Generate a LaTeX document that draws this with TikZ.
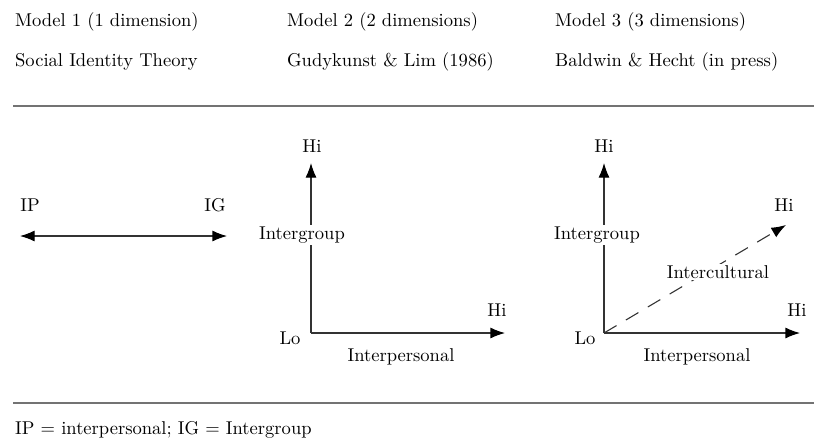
\documentclass[tikz,border=0pt]{standalone}
\usepackage{tikz}
\usetikzlibrary{positioning}
\usetikzlibrary{arrows.meta}
\tikzset{
  lbl/.style={inner sep=1pt, font=\fontsize{10.2}{12}\selectfont},
  axis/.style={draw=black!80, line width=0.6pt, -{Latex[length=8pt,width=6pt,color=black]}},
  rule/.style={draw=black!55, line width=1.1pt},
}

\begin{document}
\begin{tikzpicture}[x=0.55pt, y=-0.55pt]
        \useasboundingbox (0,0) rectangle (814,439);

        % header rows
        \node[lbl, anchor=west] (model_one) at (13,22) {Model 1 (1 dimension)};
        \node[lbl, anchor=west] (model_two) at (285,22) {Model 2 (2 dimensions)};
        \node[lbl, anchor=west] (model_three) at (553,22) {Model 3 (3 dimensions)};
        \node[lbl, anchor=west] (source_one) at (13,62) {Social Identity Theory};
        \node[lbl, anchor=west] (source_two) at (285,62) {Gudykunst \& Lim (1986)};
        \node[lbl, anchor=west] (source_three) at (553,62) {Baldwin \& Hecht (in press)};

        \coordinate (top_rule_left) at (13,106);
        \coordinate (top_rule_right) at (814,106);
        \draw[rule] (top_rule_left) -- (top_rule_right);

        % model 1
        \coordinate (ip_end) at (20,236);
        \coordinate (ig_end) at (227,236);
        \draw[axis, {Latex[length=8pt,width=6pt,color=black]}-{Latex[length=8pt,width=6pt,color=black]}] (ip_end) -- (ig_end);
        \node[lbl] (ip_label) at (30,205) {IP};
        \node[lbl] (ig_label) at (215,205) {IG};

        % model 2
        \coordinate (origin_two) at (311,333);
        \coordinate (up_two) at (311,163);
        \coordinate (right_two) at (505,333);
        \draw[axis] (origin_two) -- (up_two);
        \draw[axis] (origin_two) -- (right_two);
        \node[lbl] (hi_up_two) at (312,146) {Hi};
        \node[lbl] (hi_right_two) at (497,310) {Hi};
        \node[lbl, fill=white] (intergroup_two) at (302,235) {Intergroup};
        \node[lbl] (lo_two) at (290,338) {Lo};
        \node[lbl] (interpersonal_two) at (401,357) {Interpersonal};

        % model 3
        \coordinate (origin_three) at (604,333);
        \coordinate (up_three) at (604,163);
        \coordinate (right_three) at (800,333);
        \coordinate (diag_three) at (786,225);
        \draw[axis] (origin_three) -- (up_three);
        \draw[axis] (origin_three) -- (right_three);
        \draw[axis, dash pattern=on 8pt off 6pt] (origin_three) -- (diag_three);
        \node[lbl] (hi_up_three) at (604,146) {Hi};
        \node[lbl] (hi_right_three) at (797,310) {Hi};
        \node[lbl] (hi_diag_three) at (784,205) {Hi};
        \node[lbl, fill=white] (intergroup_three) at (597,235) {Intergroup};
        \node[lbl, fill=white] (intercultural_three) at (718,272) {Intercultural};
        \node[lbl] (lo_three) at (585,338) {Lo};
        \node[lbl] (interpersonal_three) at (697,357) {Interpersonal};

        % footer
        \coordinate (bottom_rule_left) at (13,403);
        \coordinate (bottom_rule_right) at (814,403);
        \draw[rule, line width=0.8pt] (bottom_rule_left) -- (bottom_rule_right);
        \node[lbl, anchor=west] (legend) at (13,430) {IP = interpersonal; IG = Intergroup};
\end{tikzpicture}
\end{document}
